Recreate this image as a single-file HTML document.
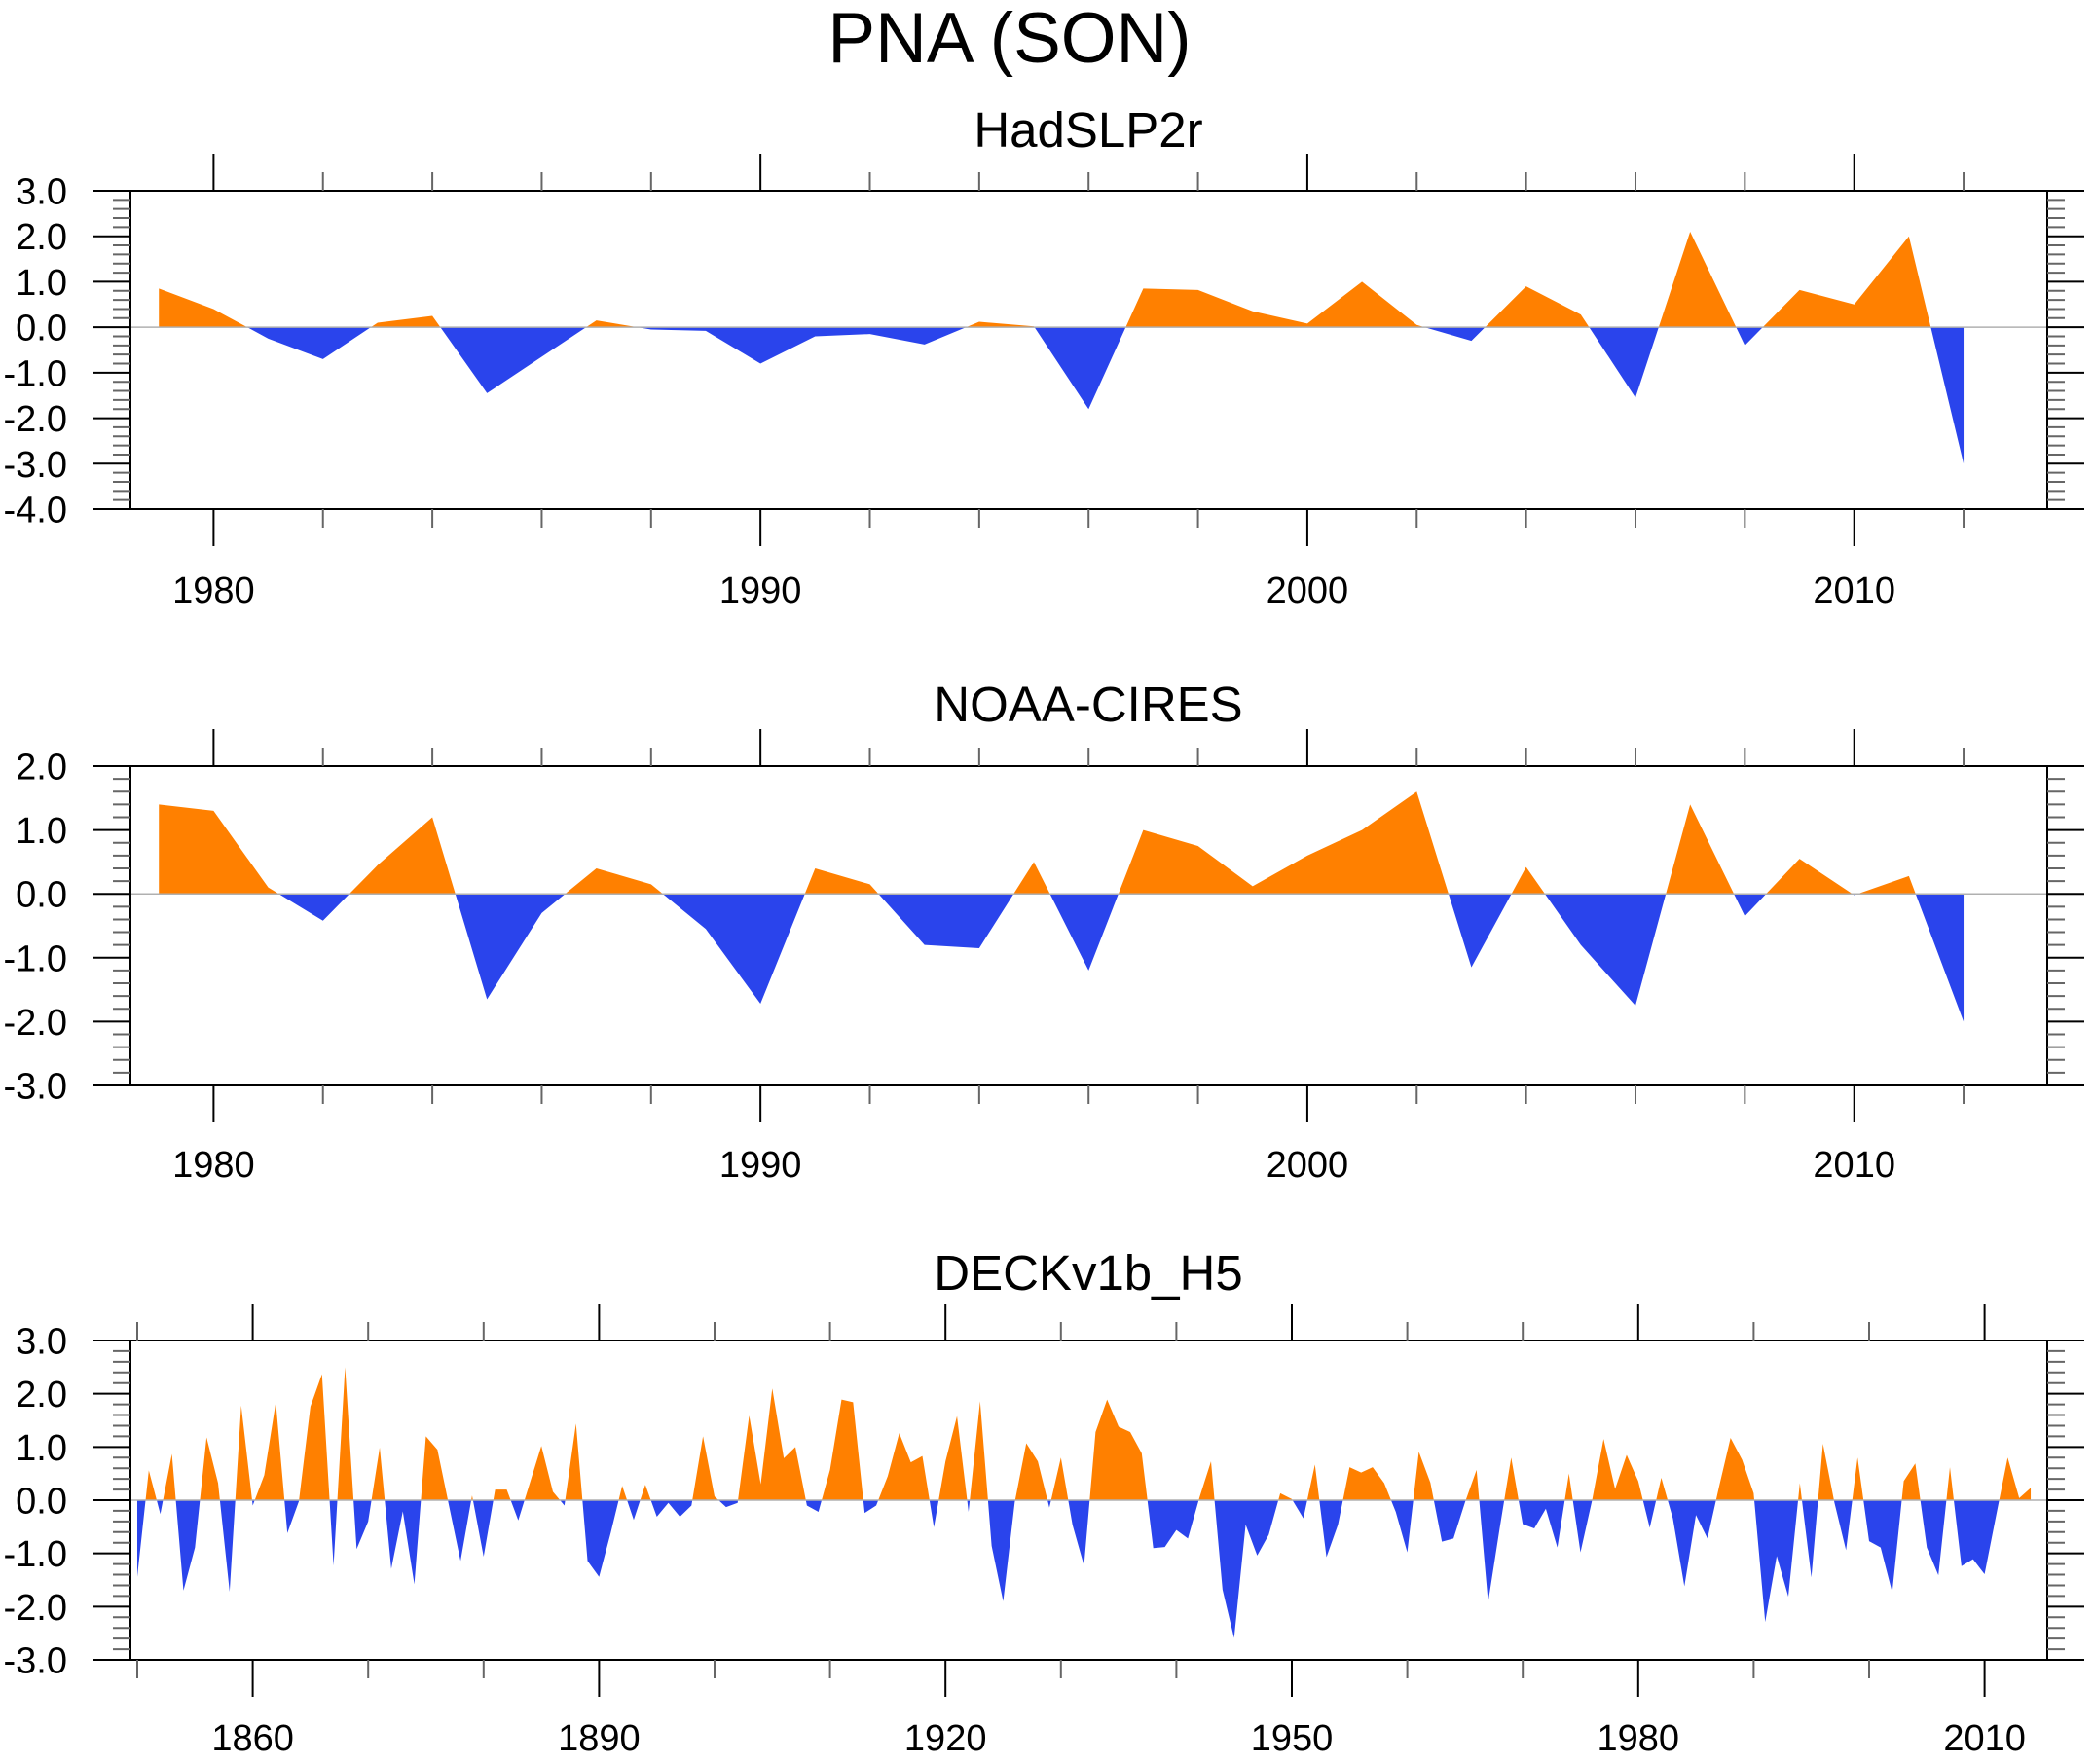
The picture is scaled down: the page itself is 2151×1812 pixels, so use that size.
<!DOCTYPE html>
<html><head><meta charset="utf-8"><style>
html,body{margin:0;padding:0;background:#fff;}
svg text{font-family:"Liberation Sans",Arial,sans-serif;fill:#000;}
</style></head><body>
<svg id="chart" width="2151" height="1807" viewBox="0 0 2151 1807" xmlns="http://www.w3.org/2000/svg">
<text x="1037" y="64" font-size="73" text-anchor="middle">PNA (SON)</text>
</svg>
<script>
// ---- data ----
const hadYears = [1979,1980,1981,1982,1983,1984,1985,1986,1987,1988,1989,1990,1991,1992,1993,1994,1995,1996,1997,1998,1999,2000,2001,2002,2003,2004,2005,2006,2007,2008,2009,2010,2011,2012];
const hadValues = [0.85,0.4,-0.25,-0.7,0.1,0.25,-1.45,-0.65,0.15,-0.05,-0.08,-0.8,-0.2,-0.15,-0.38,0.12,0.02,-1.8,0.85,0.82,0.35,0.08,1.0,0.05,-0.3,0.9,0.28,-1.55,2.1,-0.4,0.82,0.5,2.0,-3.0];
const noaaYears = hadYears;
const noaaValues = [1.4,1.3,0.1,-0.42,0.45,1.2,-1.65,-0.3,0.4,0.15,-0.55,-1.72,0.4,0.15,-0.8,-0.85,0.5,-1.2,1.0,0.75,0.12,0.6,1.0,1.6,-1.15,0.42,-0.8,-1.75,1.4,-0.35,0.55,-0.02,0.28,-2.0];
const deckStartYear = 1850;
const deckValues = [
-1.44,0.56,-0.26,0.87,-1.70,-0.89,1.18,0.32,-1.72,1.78,
-0.10,0.47,1.84,-0.62,-0.02,1.76,2.37,-1.23,2.50,-0.92,
-0.40,0.99,-1.29,-0.21,-1.58,1.20,0.95,-0.10,-1.14,0.09,
-1.06,0.20,0.20,-0.38,0.32,1.02,0.16,-0.10,1.44,-1.14,
-1.44,-0.62,
0.27,-0.37,0.29,-0.31,-0.05,-0.31,-0.10,1.20,0.07,-0.13,
-0.05,1.59,0.30,2.10,0.79,1.00,-0.10,-0.22,0.57,1.89,
1.84,-0.24,-0.10,0.45,1.26,0.71,0.83,-0.51,0.73,1.58,
-0.22,1.86,-0.86,-1.90,-0.04,1.07,0.73,-0.14,0.80,-0.46,
-1.23,1.28,1.89,1.38,1.28,0.88,-0.90,-0.88,-0.56,-0.72,
0.05,0.73,-1.68,-2.59,-0.46,-1.04,-0.65,0.13,0.02,-0.34,
0.67,-1.07,-0.46,0.62,0.52,0.62,0.32,-0.22,-0.98,0.91,
0.33,-0.78,-0.72,-0.04,0.57,-1.92,-0.53,0.80,-0.45,
-0.53,-0.16,-0.89,0.50,-0.98,-0.01,1.15,0.21,0.85,0.36,
-0.52,0.42,-0.34,-1.62,-0.28,-0.72,0.25,1.17,0.76,0.13,
-2.29,-1.05,-1.81,0.32,-1.45,1.06,-0.05,-0.94,0.80,-0.77,
-0.89,-1.73,0.36,0.69,-0.89,-1.41,0.62,-1.24,-1.11,-1.39,
-0.29,0.80,0.04,0.23];
const deckYears = deckValues.map((_, i) => deckStartYear + i);
const p1YTicks = [3,2,1,0,-1,-2,-3,-4];
const p2YTicks = [2,1,0,-1,-2,-3];
const p3YTicks = [3,2,1,0,-1,-2,-3];
const p12XLabels = [1980,1990,2000,2010];
const p3XLabels = [1860,1890,1920,1950,1980,2010];

const NS = 'http://www.w3.org/2000/svg';
const svg = document.getElementById('chart');
function mk(tag, attrs, parent) {
  const e = document.createElementNS(NS, tag);
  for (const k in attrs) e.setAttribute(k, attrs[k]);
  (parent || svg).appendChild(e);
  return e;
}

function panel(cfg) {
  const L = 134, R = 2103, T = cfg.top, B = cfg.bottom;
  const xs = yr => L + (yr - cfg.x0) / (cfg.x1 - cfg.x0) * (R - L);
  const ys = v => T + (cfg.ymax - v) / (cfg.ymax - cfg.ymin) * (B - T);
  const g = mk('g', {});
  
  

  const t = mk('text', {x: 1118, y: cfg.titleY, 'font-size': 51, 'text-anchor': 'middle'}, g);
  t.textContent = cfg.title;
  
  

  const y0 = ys(0);
  let d = 'M' + xs(cfg.years[0]) + ',' + y0;
  cfg.values.forEach((v, i) => { d += ' L' + xs(cfg.years[i]) + ',' + ys(v); });
  d += ' L' + xs(cfg.years[cfg.years.length - 1]) + ',' + y0 + ' Z';
  const cpU = mk('clipPath', {id: cfg.name + '-up'}, g);
  mk('rect', {x: L, y: T, width: R - L, height: y0 - T}, cpU);
  const cpD = mk('clipPath', {id: cfg.name + '-dn'}, g);
  mk('rect', {x: L, y: y0, width: R - L, height: B - y0}, cpD);
  const up = mk('path', {d: d, fill: '#ff8000', 'clip-path': 'url(#' + cfg.name + '-up)'}, g);
  
  
  const dn = mk('path', {d: d, fill: '#2a44ec', 'clip-path': 'url(#' + cfg.name + '-dn)'}, g);
  
  
  const zl = mk('line', {x1: L, x2: R, y1: y0, y2: y0, stroke: '#b0b0b0', 'stroke-width': 1.5}, g);
  
  

  const box = mk('rect', {x: L, y: T, width: R - L, height: B - T, fill: 'none', stroke: '#000', 'stroke-width': 2}, g);
  
  

  for (let v = cfg.ymin; v <= cfg.ymax + 1e-9; v += 0.2) {
    const vv = Math.round(v * 10) / 10;
    const major = Math.abs(vv - Math.round(vv)) < 1e-6;
    const len = major ? 38 : 18;
    const yy = ys(vv);
    mk('line', {x1: L - len, x2: L, y1: yy, y2: yy, stroke: major ? '#000' : '#666', 'stroke-width': 2}, g);
    mk('line', {x1: R, x2: R + len, y1: yy, y2: yy, stroke: major ? '#000' : '#666', 'stroke-width': 2}, g);
  }
  cfg.yTicks.forEach(v => {
    const lb = mk('text', {x: 69, y: ys(v) + 13.5, 'font-size': 38, 'text-anchor': 'end'}, g);
    lb.textContent = v.toFixed(1);
    
    
  });
  for (let yr = Math.ceil(cfg.x0 / cfg.minorStep) * cfg.minorStep; yr <= cfg.x1; yr += cfg.minorStep) {
    const major = cfg.xLabels.indexOf(yr) >= 0;
    const len = major ? 38 : 19;
    const xx = xs(yr);
    mk('line', {x1: xx, x2: xx, y1: T - len, y2: T, stroke: major ? '#000' : '#666', 'stroke-width': 2}, g);
    mk('line', {x1: xx, x2: xx, y1: B, y2: B + len, stroke: major ? '#000' : '#666', 'stroke-width': 2}, g);
  }
  cfg.xLabels.forEach(yr => {
    const lb = mk('text', {x: xs(yr), y: cfg.xLabelY, 'font-size': 38, 'text-anchor': 'middle'}, g);
    lb.textContent = String(yr);
    
    
  });
}

panel({name: 'hadslp2r', title: 'HadSLP2r', titleY: 151, top: 196, bottom: 523, ymin: -4, ymax: 3,
  x0: 1978.48, x1: 2013.53, years: hadYears, values: hadValues, yTicks: p1YTicks, xLabels: p12XLabels, minorStep: 2, xLabelY: 619});
panel({name: 'noaa-cires', title: 'NOAA-CIRES', titleY: 741, top: 787, bottom: 1115, ymin: -3, ymax: 2,
  x0: 1978.48, x1: 2013.53, years: noaaYears, values: noaaValues, yTicks: p2YTicks, xLabels: p12XLabels, minorStep: 2, xLabelY: 1209});
panel({name: 'deckv1b-h5', title: 'DECKv1b_H5', titleY: 1325, top: 1377, bottom: 1705, ymin: -3, ymax: 3,
  x0: 1849.41, x1: 2015.43, years: deckYears, values: deckValues, yTicks: p3YTicks, xLabels: p3XLabels, minorStep: 10, xLabelY: 1798});
</script>
</body></html>
